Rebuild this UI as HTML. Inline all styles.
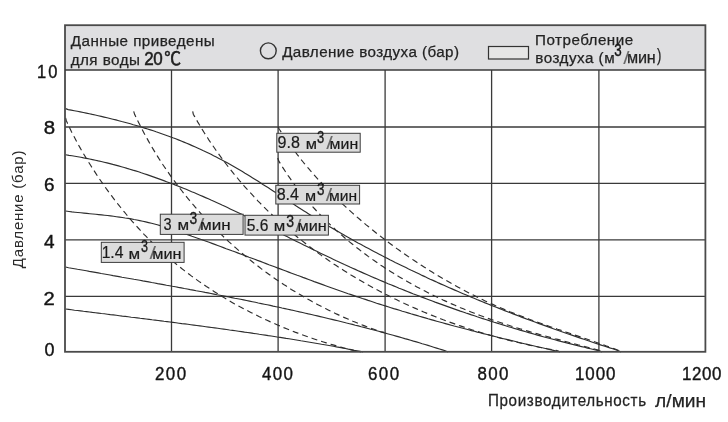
<!DOCTYPE html>
<html><head><meta charset="utf-8"><title>Chart</title><style>
html,body{margin:0;padding:0;background:#fff;}
body{width:728px;height:422px;overflow:hidden;}
svg{display:block;}
.g line{stroke:#3a3a3a;stroke-width:1.3;}
.c path{fill:none;stroke:#2e2e2e;stroke-width:1.15;}
.d path{fill:none;stroke:#2e2e2e;stroke-width:1.15;stroke-dasharray:6 4;}
</style></head><body>
<svg width="728" height="422" viewBox="0 0 728 422">
<rect x="65" y="25" width="640.5" height="45" fill="#dfdfe1"/>
<g class="g"><line x1="171.5" y1="70" x2="171.5" y2="352"/><line x1="278.1" y1="70" x2="278.1" y2="352"/><line x1="385.1" y1="70" x2="385.1" y2="352"/><line x1="491.6" y1="70" x2="491.6" y2="352"/><line x1="598.9" y1="70" x2="598.9" y2="352"/><line x1="65" y1="127.0" x2="705.5" y2="127.0"/><line x1="65" y1="183.4" x2="705.5" y2="183.4"/><line x1="65" y1="239.9" x2="705.5" y2="239.9"/><line x1="65" y1="296.3" x2="705.5" y2="296.3"/></g>
<g class="c"><path d="M65.6 108.6 L68.2 109.6 L71.2 110.1 L74.3 110.7 L77.3 111.3 L80.3 111.9 L83.3 112.5 L86.3 113.1 L89.3 113.7 L92.3 114.4 L95.2 115.0 L98.2 115.7 L101.2 116.4 L104.1 117.1 L107.1 117.8 L110.0 118.5 L112.9 119.2 L115.9 119.9 L118.8 120.7 L121.7 121.5 L124.6 122.2 L127.5 123.0 L130.4 123.8 L133.3 124.7 L136.2 125.5 L139.0 126.3 L141.9 127.2 L144.7 128.1 L147.6 129.0 L150.4 129.9 L153.3 130.8 L156.1 131.8 L158.9 132.7 L161.7 133.7 L164.5 134.7 L167.3 135.7 L170.1 136.7 L172.9 137.8 L175.7 138.8 L178.4 139.9 L181.2 141.0 L183.9 142.1 L186.7 143.3 L189.4 144.4 L192.1 145.6 L194.8 146.8 L197.5 148.0 L200.3 149.2 L202.9 150.5 L205.6 151.7 L208.3 153.0 L211.0 154.3 L213.6 155.7 L216.3 157.0 L218.9 158.4 L221.6 159.8 L224.2 161.2 L226.8 162.6 L229.4 164.1 L232.0 165.6 L234.6 167.1 L237.2 168.6 L239.8 170.1 L242.4 171.6 L245.0 173.2 L247.6 174.7 L250.1 176.3 L252.7 177.9 L255.2 179.5 L257.8 181.1 L260.4 182.7 L262.9 184.4 L265.4 186.0 L268.0 187.6 L270.5 189.3 L273.1 190.9 L275.6 192.6 L278.2 194.2 L280.7 195.9 L283.2 197.5 L285.8 199.2 L288.3 200.8 L290.9 202.5 L293.4 204.1 L295.9 205.8 L298.5 207.4 L301.0 209.1 L303.6 210.7 L306.2 212.3 L308.7 213.9 L311.3 215.5 L313.8 217.1 L316.4 218.7 L319.0 220.3 L321.6 221.8 L324.1 223.4 L326.7 225.0 L329.3 226.5 L331.9 228.0 L334.5 229.6 L337.1 231.1 L339.7 232.6 L342.3 234.1 L344.9 235.6 L347.5 237.0 L350.2 238.5 L352.8 240.0 L355.4 241.4 L358.0 242.9 L360.7 244.3 L363.3 245.8 L365.9 247.2 L368.6 248.6 L371.2 250.0 L373.9 251.4 L376.5 252.8 L379.2 254.2 L381.8 255.6 L384.5 256.9 L387.2 258.3 L389.8 259.7 L392.5 261.0 L395.2 262.4 L397.9 263.7 L400.5 265.0 L403.2 266.3 L405.9 267.6 L408.6 269.0 L411.3 270.3 L414.0 271.5 L416.7 272.8 L419.4 274.1 L422.1 275.4 L424.8 276.6 L427.5 277.9 L430.2 279.2 L433.0 280.4 L435.7 281.6 L438.4 282.9 L441.1 284.1 L443.9 285.3 L446.6 286.5 L449.3 287.7 L452.1 288.9 L454.8 290.1 L457.6 291.3 L460.3 292.5 L463.1 293.7 L465.8 294.8 L468.6 296.0 L471.4 297.2 L474.1 298.3 L476.9 299.5 L479.7 300.6 L482.4 301.7 L485.2 302.9 L488.0 304.0 L490.8 305.1 L493.5 306.2 L496.3 307.3 L499.1 308.4 L501.9 309.5 L504.7 310.6 L507.5 311.7 L510.3 312.8 L513.1 313.9 L515.9 314.9 L518.7 316.0 L521.5 317.1 L524.3 318.1 L527.1 319.2 L530.0 320.2 L532.8 321.3 L535.6 322.3 L538.4 323.4 L541.3 324.4 L544.1 325.4 L546.9 326.4 L549.7 327.4 L552.6 328.5 L555.4 329.5 L558.3 330.5 L561.1 331.5 L564.0 332.5 L566.8 333.5 L569.7 334.4 L572.5 335.4 L575.4 336.4 L578.2 337.4 L581.1 338.4 L583.9 339.3 L586.8 340.3 L589.7 341.2 L592.5 342.2 L595.4 343.2 L598.3 344.1 L601.2 345.1 L604.0 346.0 L606.9 346.9 L609.8 347.9 L612.7 348.8 L615.6 349.7 L618.5 350.7 L621.0 352.0"/><path d="M65.6 154.8 L69.0 155.4 L72.0 155.8 L74.9 156.3 L77.8 156.8 L80.8 157.3 L83.7 157.9 L86.6 158.4 L89.6 159.0 L92.5 159.6 L95.4 160.2 L98.3 160.9 L101.2 161.5 L104.1 162.2 L107.0 162.9 L109.9 163.6 L112.8 164.4 L115.6 165.1 L118.5 165.9 L121.4 166.7 L124.2 167.5 L127.1 168.4 L129.9 169.2 L132.8 170.1 L135.6 170.9 L138.5 171.8 L141.3 172.8 L144.1 173.7 L147.0 174.6 L149.8 175.6 L152.6 176.6 L155.4 177.6 L158.2 178.6 L161.0 179.6 L163.8 180.6 L166.6 181.7 L169.4 182.7 L172.2 183.8 L175.0 184.9 L177.8 186.0 L180.6 187.1 L183.4 188.2 L186.2 189.3 L188.9 190.5 L191.7 191.7 L194.5 192.8 L197.2 194.0 L200.0 195.2 L202.8 196.4 L205.5 197.6 L208.3 198.8 L211.0 200.1 L213.8 201.3 L216.5 202.5 L219.3 203.8 L222.0 205.1 L224.8 206.3 L227.5 207.6 L230.2 208.9 L233.0 210.2 L235.7 211.5 L238.4 212.8 L241.2 214.1 L243.9 215.4 L246.6 216.7 L249.4 218.1 L252.1 219.4 L254.8 220.7 L257.5 222.0 L260.3 223.4 L263.0 224.7 L265.7 226.1 L268.4 227.4 L271.1 228.8 L273.8 230.1 L276.6 231.5 L279.3 232.8 L282.0 234.1 L284.7 235.5 L287.4 236.8 L290.1 238.2 L292.8 239.5 L295.6 240.9 L298.3 242.2 L301.0 243.6 L303.7 244.9 L306.4 246.2 L309.1 247.6 L311.8 248.9 L314.5 250.2 L317.3 251.6 L320.0 252.9 L322.7 254.2 L325.4 255.5 L328.1 256.8 L330.8 258.1 L333.6 259.4 L336.3 260.7 L339.0 261.9 L341.7 263.2 L344.4 264.5 L347.2 265.7 L349.9 267.0 L352.6 268.2 L355.3 269.4 L358.1 270.7 L360.8 271.9 L363.5 273.1 L366.2 274.3 L369.0 275.5 L371.7 276.7 L374.4 277.9 L377.2 279.0 L379.9 280.2 L382.7 281.4 L385.4 282.5 L388.1 283.7 L390.9 284.8 L393.6 285.9 L396.4 287.0 L399.1 288.2 L401.9 289.3 L404.6 290.4 L407.4 291.5 L410.2 292.6 L412.9 293.7 L415.7 294.7 L418.5 295.8 L421.2 296.9 L424.0 297.9 L426.8 299.0 L429.5 300.0 L432.3 301.0 L435.1 302.1 L437.9 303.1 L440.7 304.1 L443.5 305.1 L446.3 306.1 L449.1 307.1 L451.9 308.1 L454.7 309.1 L457.5 310.1 L460.3 311.1 L463.1 312.0 L465.9 313.0 L468.7 313.9 L471.5 314.9 L474.4 315.8 L477.2 316.8 L480.0 317.7 L482.8 318.6 L485.7 319.5 L488.5 320.4 L491.4 321.4 L494.2 322.3 L497.1 323.1 L499.9 324.0 L502.8 324.9 L505.6 325.8 L508.5 326.7 L511.4 327.5 L514.2 328.4 L517.1 329.2 L520.0 330.1 L522.9 330.9 L525.8 331.8 L528.7 332.6 L531.6 333.4 L534.5 334.2 L537.4 335.1 L540.3 335.9 L543.2 336.7 L546.1 337.5 L549.1 338.3 L552.0 339.0 L554.9 339.8 L557.9 340.6 L560.8 341.4 L563.8 342.1 L566.7 342.9 L569.7 343.6 L572.6 344.4 L575.6 345.1 L578.6 345.9 L581.5 346.6 L584.5 347.3 L587.5 348.1 L590.5 348.8 L593.5 349.5 L596.5 350.2 L599.5 350.9 L602.0 352.0"/><path d="M65.6 211.0 L69.0 211.5 L71.9 211.9 L74.9 212.2 L77.9 212.5 L80.9 212.8 L83.9 213.1 L86.9 213.4 L89.8 213.7 L92.8 214.0 L95.8 214.3 L98.7 214.6 L101.7 214.9 L104.6 215.2 L107.6 215.5 L110.5 215.9 L113.5 216.3 L116.4 216.7 L119.4 217.1 L122.3 217.5 L125.2 218.0 L128.2 218.4 L131.1 218.9 L134.0 219.5 L136.9 220.0 L139.8 220.6 L142.8 221.2 L145.7 221.9 L148.6 222.6 L151.5 223.3 L154.4 224.0 L157.3 224.8 L160.2 225.6 L163.1 226.5 L166.0 227.3 L168.9 228.3 L171.7 229.2 L174.6 230.2 L177.5 231.1 L180.4 232.1 L183.3 233.1 L186.2 234.1 L189.0 235.1 L191.9 236.2 L194.8 237.2 L197.6 238.2 L200.5 239.2 L203.4 240.3 L206.2 241.3 L209.1 242.3 L212.0 243.4 L214.8 244.4 L217.7 245.5 L220.5 246.5 L223.4 247.6 L226.2 248.7 L229.1 249.7 L231.9 250.8 L234.8 251.8 L237.6 252.9 L240.5 254.0 L243.3 255.0 L246.2 256.1 L249.0 257.2 L251.9 258.2 L254.7 259.3 L257.5 260.4 L260.4 261.4 L263.2 262.5 L266.1 263.6 L268.9 264.7 L271.7 265.7 L274.6 266.8 L277.4 267.9 L280.2 268.9 L283.1 270.0 L285.9 271.0 L288.7 272.1 L291.6 273.2 L294.4 274.2 L297.2 275.3 L300.1 276.3 L302.9 277.4 L305.7 278.4 L308.6 279.5 L311.4 280.5 L314.2 281.6 L317.1 282.6 L319.9 283.6 L322.7 284.6 L325.6 285.7 L328.4 286.7 L331.2 287.7 L334.1 288.7 L336.9 289.7 L339.7 290.7 L342.6 291.7 L345.4 292.7 L348.2 293.7 L351.1 294.6 L353.9 295.6 L356.7 296.6 L359.6 297.5 L362.4 298.5 L365.3 299.4 L368.1 300.4 L371.0 301.3 L373.8 302.2 L376.6 303.2 L379.5 304.1 L382.3 305.0 L385.2 305.9 L388.0 306.8 L390.9 307.7 L393.7 308.6 L396.6 309.4 L399.5 310.3 L402.3 311.2 L405.2 312.0 L408.0 312.9 L410.9 313.8 L413.8 314.6 L416.6 315.4 L419.5 316.3 L422.4 317.1 L425.2 317.9 L428.1 318.8 L431.0 319.6 L433.9 320.4 L436.7 321.2 L439.6 322.0 L442.5 322.8 L445.4 323.6 L448.3 324.4 L451.2 325.2 L454.1 326.0 L457.0 326.7 L459.9 327.5 L462.8 328.3 L465.7 329.0 L468.6 329.8 L471.5 330.6 L474.4 331.3 L477.3 332.1 L480.2 332.8 L483.2 333.6 L486.1 334.3 L489.0 335.0 L491.9 335.8 L494.9 336.5 L497.8 337.2 L500.7 338.0 L503.7 338.7 L506.6 339.4 L509.6 340.1 L512.5 340.8 L515.5 341.5 L518.5 342.3 L521.4 343.0 L524.4 343.7 L527.4 344.4 L530.3 345.1 L533.3 345.8 L536.3 346.5 L539.3 347.2 L542.3 347.8 L545.3 348.5 L548.3 349.2 L551.3 349.9 L554.3 350.6 L557.3 351.3 L560.0 352.0"/><path d="M65.6 267.0 L68.6 267.7 L71.5 268.2 L74.5 268.7 L77.5 269.3 L80.4 269.8 L83.4 270.3 L86.4 270.8 L89.3 271.4 L92.3 271.9 L95.3 272.4 L98.2 272.9 L101.2 273.5 L104.2 274.0 L107.1 274.5 L110.1 275.0 L113.1 275.6 L116.0 276.1 L119.0 276.6 L122.0 277.2 L124.9 277.7 L127.9 278.2 L130.9 278.7 L133.9 279.3 L136.8 279.8 L139.8 280.3 L142.8 280.9 L145.7 281.4 L148.7 281.9 L151.7 282.5 L154.6 283.0 L157.6 283.6 L160.6 284.1 L163.5 284.6 L166.5 285.2 L169.5 285.7 L172.4 286.3 L175.4 286.8 L178.4 287.4 L181.3 287.9 L184.3 288.5 L187.3 289.0 L190.2 289.6 L193.2 290.1 L196.2 290.7 L199.1 291.2 L202.1 291.8 L205.1 292.4 L208.0 292.9 L211.0 293.5 L214.0 294.1 L216.9 294.7 L219.9 295.2 L222.9 295.8 L225.8 296.4 L228.8 297.0 L231.7 297.6 L234.7 298.2 L237.7 298.7 L240.6 299.3 L243.6 299.9 L246.5 300.5 L249.5 301.1 L252.4 301.7 L255.4 302.3 L258.3 303.0 L261.3 303.6 L264.3 304.2 L267.2 304.8 L270.2 305.4 L273.1 306.1 L276.1 306.7 L279.0 307.3 L282.0 308.0 L284.9 308.6 L287.8 309.2 L290.8 309.9 L293.7 310.5 L296.7 311.2 L299.6 311.9 L302.6 312.5 L305.5 313.2 L308.4 313.9 L311.4 314.5 L314.3 315.2 L317.3 315.9 L320.2 316.6 L323.1 317.3 L326.1 318.0 L329.0 318.7 L331.9 319.4 L334.9 320.1 L337.8 320.8 L340.7 321.5 L343.6 322.2 L346.6 323.0 L349.5 323.7 L352.4 324.4 L355.3 325.2 L358.3 325.9 L361.2 326.7 L364.1 327.4 L367.0 328.2 L369.9 329.0 L372.9 329.7 L375.8 330.5 L378.7 331.3 L381.6 332.1 L384.5 332.9 L387.4 333.7 L390.3 334.5 L393.2 335.3 L396.1 336.1 L399.0 336.9 L401.9 337.7 L404.8 338.6 L407.7 339.4 L410.6 340.2 L413.5 341.1 L416.4 341.9 L419.3 342.8 L422.2 343.7 L425.1 344.5 L428.0 345.4 L430.8 346.3 L433.7 347.2 L436.6 348.1 L439.5 349.0 L442.4 349.9 L445.2 350.8 L448.0 352.0"/><path d="M65.6 309.0 L68.6 309.4 L71.6 309.8 L74.5 310.2 L77.5 310.5 L80.5 310.9 L83.5 311.3 L86.5 311.6 L89.5 312.0 L92.4 312.4 L95.4 312.7 L98.4 313.1 L101.4 313.5 L104.4 313.8 L107.4 314.2 L110.3 314.6 L113.3 314.9 L116.3 315.3 L119.3 315.7 L122.3 316.1 L125.3 316.4 L128.2 316.8 L131.2 317.2 L134.2 317.5 L137.2 317.9 L140.2 318.3 L143.2 318.6 L146.1 319.0 L149.1 319.4 L152.1 319.8 L155.1 320.1 L158.1 320.5 L161.0 320.9 L164.0 321.3 L167.0 321.6 L170.0 322.0 L173.0 322.4 L176.0 322.8 L178.9 323.2 L181.9 323.6 L184.9 323.9 L187.9 324.3 L190.9 324.7 L193.8 325.1 L196.8 325.5 L199.8 325.9 L202.8 326.3 L205.8 326.7 L208.7 327.1 L211.7 327.5 L214.7 327.9 L217.7 328.3 L220.7 328.7 L223.6 329.1 L226.6 329.5 L229.6 330.0 L232.6 330.4 L235.5 330.8 L238.5 331.2 L241.5 331.6 L244.5 332.1 L247.4 332.5 L250.4 332.9 L253.4 333.4 L256.4 333.8 L259.3 334.3 L262.3 334.7 L265.3 335.1 L268.3 335.6 L271.2 336.0 L274.2 336.5 L277.2 337.0 L280.1 337.4 L283.1 337.9 L286.1 338.4 L289.0 338.8 L292.0 339.3 L295.0 339.8 L297.9 340.3 L300.9 340.8 L303.9 341.2 L306.8 341.7 L309.8 342.2 L312.8 342.7 L315.7 343.2 L318.7 343.7 L321.6 344.3 L324.6 344.8 L327.6 345.3 L330.5 345.8 L333.5 346.3 L336.4 346.9 L339.4 347.4 L342.4 348.0 L345.3 348.5 L348.3 349.1 L351.2 349.6 L354.2 350.2 L357.1 350.7 L360.1 351.3 L363.0 352.0"/></g>
<g class="d"><path d="M65.6 118.0 L66.4 120.9 L67.6 123.6 L68.9 126.3 L70.2 129.0 L71.5 131.7 L72.9 134.4 L74.3 137.0 L75.7 139.7 L77.1 142.4 L78.5 145.0 L80.0 147.6 L81.5 150.3 L83.0 152.9 L84.6 155.5 L86.1 158.1 L87.7 160.7 L89.3 163.2 L90.9 165.8 L92.5 168.4 L94.2 170.9 L95.8 173.4 L97.5 176.0 L99.2 178.5 L100.9 181.0 L102.6 183.4 L104.4 185.9 L106.1 188.4 L107.9 190.8 L109.7 193.2 L111.5 195.7 L113.3 198.1 L115.1 200.5 L116.9 202.8 L118.8 205.2 L120.7 207.5 L122.6 209.9 L124.5 212.2 L126.4 214.5 L128.3 216.8 L130.3 219.1 L132.2 221.3 L134.2 223.6 L136.2 225.8 L138.2 228.0 L140.2 230.2 L142.3 232.4 L144.3 234.6 L146.4 236.7 L148.5 238.9 L150.6 241.0 L152.8 243.1 L154.9 245.2 L157.1 247.2 L159.2 249.3 L161.4 251.3 L163.7 253.3 L165.9 255.3 L168.2 257.3 L170.4 259.3 L172.7 261.2 L175.0 263.1 L177.3 265.0 L179.7 266.9 L182.0 268.8 L184.4 270.6 L186.8 272.5 L189.2 274.3 L191.6 276.1 L194.0 277.8 L196.5 279.6 L198.9 281.4 L201.4 283.1 L203.9 284.8 L206.4 286.5 L208.9 288.1 L211.4 289.8 L214.0 291.4 L216.5 293.0 L219.1 294.6 L221.7 296.2 L224.3 297.8 L226.9 299.3 L229.5 300.9 L232.1 302.4 L234.7 303.9 L237.4 305.3 L240.0 306.8 L242.7 308.2 L245.4 309.6 L248.1 311.0 L250.8 312.4 L253.5 313.8 L256.2 315.1 L258.9 316.5 L261.6 317.8 L264.4 319.1 L267.1 320.3 L269.9 321.6 L272.7 322.8 L275.4 324.0 L278.2 325.2 L281.0 326.4 L283.8 327.6 L286.6 328.7 L289.4 329.9 L292.2 331.0 L295.0 332.1 L297.8 333.1 L300.7 334.2 L303.5 335.2 L306.3 336.2 L309.2 337.3 L312.0 338.2 L314.9 339.2 L317.7 340.1 L320.6 341.1 L323.4 342.0 L326.3 342.9 L329.2 343.8 L332.0 344.6 L334.9 345.4 L337.8 346.3 L340.6 347.1 L343.5 347.9 L346.4 348.6 L349.3 349.4 L352.1 350.1 L355.0 350.8 L357.9 351.5 L361.0 352.0"/><path d="M133.7 111.4 L134.6 114.3 L135.9 117.0 L137.2 119.8 L138.6 122.5 L139.9 125.1 L141.3 127.8 L142.7 130.5 L144.1 133.2 L145.5 135.8 L147.0 138.4 L148.5 141.1 L149.9 143.7 L151.5 146.3 L153.0 148.9 L154.5 151.4 L156.1 154.0 L157.7 156.6 L159.3 159.1 L161.0 161.6 L162.6 164.2 L164.3 166.7 L166.0 169.2 L167.7 171.6 L169.4 174.1 L171.1 176.6 L172.9 179.0 L174.7 181.4 L176.5 183.9 L178.3 186.3 L180.1 188.7 L182.0 191.0 L183.8 193.4 L185.7 195.8 L187.6 198.1 L189.5 200.4 L191.5 202.7 L193.4 205.0 L195.4 207.3 L197.4 209.6 L199.4 211.8 L201.4 214.1 L203.4 216.3 L205.5 218.5 L207.5 220.7 L209.6 222.9 L211.7 225.1 L213.8 227.2 L215.9 229.4 L218.1 231.5 L220.2 233.6 L222.4 235.7 L224.6 237.8 L226.8 239.8 L229.0 241.9 L231.3 243.9 L233.5 245.9 L235.8 247.9 L238.0 249.9 L240.3 251.9 L242.6 253.8 L244.9 255.8 L247.3 257.7 L249.6 259.6 L252.0 261.5 L254.3 263.4 L256.7 265.2 L259.1 267.0 L261.5 268.9 L263.9 270.7 L266.4 272.5 L268.8 274.2 L271.3 276.0 L273.7 277.7 L276.2 279.4 L278.7 281.1 L281.2 282.8 L283.7 284.5 L286.3 286.1 L288.8 287.7 L291.3 289.4 L293.9 290.9 L296.5 292.5 L299.1 294.1 L301.7 295.6 L304.3 297.1 L306.9 298.6 L309.5 300.1 L312.1 301.6 L314.8 303.0 L317.4 304.4 L320.1 305.8 L322.8 307.2 L325.5 308.6 L328.2 309.9 L330.9 311.3 L333.6 312.6 L336.3 313.9 L339.0 315.1 L341.8 316.4 L344.5 317.6 L347.3 318.8 L350.0 320.0 L352.8 321.2 L355.6 322.3 L358.4 323.4 L361.2 324.5 L364.0 325.6 L366.8 326.7 L369.6 327.7 L372.5 328.7 L375.3 329.7 L378.1 330.7 L381.0 331.7 L384.0 332.3"/><path d="M192.7 111.4 L193.3 114.2 L194.8 116.9 L196.3 119.5 L197.8 122.1 L199.4 124.7 L200.9 127.3 L202.5 129.9 L204.1 132.5 L205.7 135.0 L207.4 137.5 L209.0 140.1 L210.7 142.6 L212.4 145.1 L214.1 147.5 L215.8 150.0 L217.5 152.5 L219.3 154.9 L221.1 157.3 L222.9 159.7 L224.7 162.1 L226.5 164.5 L228.3 166.9 L230.2 169.2 L232.1 171.6 L233.9 173.9 L235.9 176.2 L237.8 178.5 L239.7 180.8 L241.7 183.1 L243.6 185.3 L245.6 187.6 L247.6 189.8 L249.6 192.0 L251.7 194.2 L253.7 196.4 L255.8 198.6 L257.8 200.8 L259.9 202.9 L262.0 205.0 L264.1 207.2 L266.3 209.3 L268.4 211.4 L270.6 213.4 L272.8 215.5 L274.9 217.5 L277.1 219.6 L279.4 221.6 L281.6 223.6 L283.8 225.6 L286.1 227.5 L288.3 229.5 L290.6 231.4 L292.9 233.4 L295.2 235.3 L297.5 237.2 L299.9 239.1 L302.2 240.9 L304.6 242.8 L306.9 244.6 L309.3 246.5 L311.7 248.3 L314.1 250.1 L316.5 251.8 L318.9 253.6 L321.4 255.4 L323.8 257.1 L326.3 258.8 L328.7 260.5 L331.2 262.2 L333.7 263.9 L336.2 265.5 L338.7 267.2 L341.2 268.8 L343.8 270.4 L346.3 272.0 L348.8 273.6 L351.4 275.2 L354.0 276.7 L356.5 278.3 L359.1 279.8 L361.7 281.3 L364.3 282.8 L367.0 284.3 L369.6 285.8 L372.2 287.2 L374.9 288.7 L377.5 290.1 L380.2 291.5 L382.8 292.9 L385.5 294.3 L388.2 295.6 L390.9 297.0 L393.6 298.3 L396.3 299.6 L399.0 300.9 L401.7 302.2 L404.4 303.5 L407.2 304.7 L409.9 306.0 L412.7 307.2 L415.4 308.4 L418.2 309.6 L420.9 310.8 L423.7 312.0 L426.5 313.1 L429.3 314.3 L432.1 315.4 L434.9 316.5 L437.7 317.6 L440.5 318.7 L443.3 319.8 L446.1 320.8 L449.0 321.9 L451.8 322.9 L454.6 323.9 L457.5 324.9 L460.3 325.9 L463.2 326.9 L466.0 327.8 L468.9 328.8 L471.7 329.7 L474.6 330.6 L477.5 331.5 L480.4 332.4 L483.2 333.2 L486.1 334.1 L489.0 334.9 L491.9 335.7 L494.8 336.6 L497.7 337.4 L500.6 338.1 L503.5 338.9 L506.4 339.7 L509.3 340.4 L512.2 341.1 L515.1 341.8 L518.1 342.5 L521.0 343.2 L523.9 343.9 L526.8 344.5 L529.7 345.2 L532.7 345.8 L535.6 346.4 L538.5 347.0 L541.5 347.6 L544.4 348.1 L547.3 348.7 L550.2 349.2 L553.2 349.8 L556.1 350.3 L559.0 351.3"/><path d="M277.8 158.0 L278.7 160.9 L280.3 163.5 L281.9 166.1 L283.5 168.6 L285.2 171.2 L286.8 173.7 L288.5 176.2 L290.3 178.7 L292.0 181.1 L293.8 183.6 L295.6 186.0 L297.4 188.4 L299.3 190.7 L301.1 193.1 L303.0 195.4 L304.9 197.7 L306.9 200.0 L308.8 202.3 L310.8 204.6 L312.8 206.8 L314.8 209.0 L316.8 211.2 L318.9 213.4 L320.9 215.5 L323.0 217.6 L325.1 219.8 L327.3 221.9 L329.4 223.9 L331.6 226.0 L333.8 228.0 L336.0 230.1 L338.2 232.1 L340.4 234.1 L342.7 236.0 L344.9 238.0 L347.2 239.9 L349.5 241.9 L351.9 243.8 L354.2 245.6 L356.5 247.5 L358.9 249.3 L361.3 251.2 L363.7 253.0 L366.1 254.8 L368.5 256.6 L370.9 258.3 L373.4 260.1 L375.9 261.8 L378.3 263.5 L380.8 265.2 L383.3 266.8 L385.8 268.5 L388.4 270.1 L390.9 271.7 L393.5 273.3 L396.0 274.9 L398.6 276.5 L401.2 278.0 L403.8 279.5 L406.4 281.0 L409.0 282.5 L411.6 284.0 L414.3 285.5 L416.9 286.9 L419.6 288.3 L422.3 289.7 L424.9 291.1 L427.6 292.5 L430.3 293.9 L433.0 295.2 L435.7 296.5 L438.5 297.8 L441.2 299.1 L443.9 300.4 L446.7 301.6 L449.4 302.9 L452.2 304.1 L455.0 305.3 L457.7 306.5 L460.5 307.7 L463.3 308.8 L466.1 310.0 L468.9 311.1 L471.7 312.2 L474.5 313.3 L477.3 314.4 L480.2 315.5 L483.0 316.5 L485.8 317.6 L488.7 318.6 L491.5 319.6 L494.4 320.6 L497.2 321.5 L500.1 322.5 L502.9 323.4 L505.8 324.4 L508.7 325.3 L511.5 326.2 L514.4 327.1 L517.3 328.0 L520.2 328.9 L523.1 329.7 L525.9 330.6 L528.8 331.4 L531.7 332.3 L534.6 333.1 L537.5 333.9 L540.4 334.7 L543.3 335.5 L546.2 336.3 L549.1 337.1 L552.0 337.9 L554.9 338.7 L557.8 339.4 L560.7 340.2 L563.6 341.0 L566.5 341.7 L569.3 342.5 L572.2 343.3 L575.1 344.0 L578.0 344.8 L580.9 345.5 L583.8 346.3 L586.7 347.0 L589.6 347.8 L592.5 348.5 L595.3 349.3 L598.2 350.1 L601.0 351.3"/><path d="M278.0 127.0 L279.5 129.5 L281.2 132.1 L282.9 134.7 L284.6 137.2 L286.3 139.7 L288.1 142.2 L289.9 144.7 L291.6 147.2 L293.4 149.6 L295.3 152.0 L297.1 154.4 L299.0 156.8 L300.8 159.2 L302.7 161.5 L304.6 163.8 L306.5 166.1 L308.5 168.4 L310.4 170.7 L312.4 172.9 L314.3 175.1 L316.3 177.4 L318.3 179.6 L320.4 181.7 L322.4 183.9 L324.4 186.1 L326.5 188.2 L328.6 190.3 L330.7 192.4 L332.8 194.5 L334.9 196.6 L337.0 198.7 L339.2 200.8 L341.3 202.8 L343.5 204.9 L345.7 206.9 L347.9 208.9 L350.1 210.9 L352.3 212.9 L354.6 214.9 L356.8 216.9 L359.1 218.8 L361.4 220.8 L363.7 222.7 L365.9 224.6 L368.3 226.5 L370.6 228.4 L372.9 230.3 L375.3 232.2 L377.6 234.1 L380.0 235.9 L382.4 237.8 L384.8 239.6 L387.2 241.4 L389.6 243.2 L392.0 245.0 L394.4 246.8 L396.9 248.6 L399.3 250.3 L401.8 252.1 L404.2 253.8 L406.7 255.5 L409.2 257.2 L411.7 258.9 L414.2 260.6 L416.8 262.3 L419.3 264.0 L421.8 265.6 L424.4 267.2 L426.9 268.8 L429.5 270.5 L432.1 272.0 L434.6 273.6 L437.2 275.2 L439.8 276.7 L442.4 278.3 L445.1 279.8 L447.7 281.3 L450.3 282.8 L452.9 284.3 L455.6 285.8 L458.2 287.2 L460.9 288.7 L463.6 290.1 L466.2 291.5 L468.9 292.9 L471.6 294.3 L474.3 295.6 L477.0 297.0 L479.7 298.3 L482.4 299.6 L485.1 300.9 L487.9 302.2 L490.6 303.4 L493.3 304.6 L496.1 305.9 L498.8 307.0 L501.6 308.2 L504.3 309.4 L507.1 310.5 L509.8 311.7 L512.6 312.8 L515.4 313.9 L518.2 315.0 L521.0 316.0 L523.7 317.1 L526.5 318.2 L529.3 319.2 L532.1 320.2 L534.9 321.3 L537.8 322.3 L540.6 323.3 L543.4 324.3 L546.2 325.3 L549.0 326.2 L551.8 327.2 L554.7 328.2 L557.5 329.2 L560.3 330.1 L563.2 331.1 L566.0 332.1 L568.9 333.0 L571.7 334.0 L574.5 335.0 L577.4 335.9 L580.2 336.9 L583.1 337.9 L585.9 338.8 L588.8 339.8 L591.6 340.8 L594.5 341.8 L597.4 342.8 L600.2 343.7 L603.1 344.7 L605.9 345.8 L608.8 346.8 L611.6 347.8 L614.5 348.8 L617.4 349.9 L620.0 351.3"/></g>
<g><rect x="276.8" y="133.3" width="83.4" height="18.9" fill="#dcdcdc" stroke="#3c3c3c" stroke-width="1"/><text x="277.50" y="148.40" font-family="'Liberation Sans', 'Noto Sans CJK JP', sans-serif" font-size="16" font-weight="400" fill="#1a1a1a" textLength="22.35" lengthAdjust="spacingAndGlyphs" stroke="#1a1a1a" stroke-width="0.2">9.8</text><text x="305.65" y="149.00" font-family="'Liberation Sans', 'Noto Sans CJK JP', sans-serif" font-size="14.8" font-weight="400" fill="#1a1a1a" textLength="11.25" lengthAdjust="spacingAndGlyphs" stroke="#1a1a1a" stroke-width="0.2">м</text><text x="316.98" y="142.50" font-family="'Liberation Sans', 'Noto Sans CJK JP', sans-serif" font-size="16.3" font-weight="500" fill="#1a1a1a" textLength="7.22" lengthAdjust="spacingAndGlyphs" stroke="#1a1a1a" stroke-width="0.35">3</text><text x="326.20" y="149.30" font-family="'Liberation Sans', 'Noto Sans CJK JP', sans-serif" font-size="18.08" font-weight="300" fill="#6a6a6a" textLength="6.55" lengthAdjust="spacingAndGlyphs" >/</text><text x="329.59" y="149.00" font-family="'Liberation Sans', 'Noto Sans CJK JP', sans-serif" font-size="14.8" font-weight="400" fill="#1a1a1a" textLength="28.60" lengthAdjust="spacingAndGlyphs" stroke="#1a1a1a" stroke-width="0.2">мин</text></g><g><rect x="275.8" y="185.3" width="83.8" height="18.7" fill="#dcdcdc" stroke="#3c3c3c" stroke-width="1"/><text x="276.66" y="200.30" font-family="'Liberation Sans', 'Noto Sans CJK JP', sans-serif" font-size="16" font-weight="400" fill="#1a1a1a" textLength="22.33" lengthAdjust="spacingAndGlyphs" stroke="#1a1a1a" stroke-width="0.2">8.4</text><text x="304.97" y="200.90" font-family="'Liberation Sans', 'Noto Sans CJK JP', sans-serif" font-size="14.8" font-weight="400" fill="#1a1a1a" textLength="11.12" lengthAdjust="spacingAndGlyphs" stroke="#1a1a1a" stroke-width="0.2">м</text><text x="316.96" y="194.50" font-family="'Liberation Sans', 'Noto Sans CJK JP', sans-serif" font-size="16.3" font-weight="500" fill="#1a1a1a" textLength="7.46" lengthAdjust="spacingAndGlyphs" stroke="#1a1a1a" stroke-width="0.35">3</text><text x="325.70" y="201.30" font-family="'Liberation Sans', 'Noto Sans CJK JP', sans-serif" font-size="18.08" font-weight="300" fill="#6a6a6a" textLength="6.45" lengthAdjust="spacingAndGlyphs" >/</text><text x="329.01" y="200.90" font-family="'Liberation Sans', 'Noto Sans CJK JP', sans-serif" font-size="14.8" font-weight="400" fill="#1a1a1a" textLength="28.06" lengthAdjust="spacingAndGlyphs" stroke="#1a1a1a" stroke-width="0.2">мин</text></g><g><rect x="245.0" y="215.3" width="83.4" height="19.8" fill="#dcdcdc" stroke="#3c3c3c" stroke-width="1"/><text x="246.68" y="230.50" font-family="'Liberation Sans', 'Noto Sans CJK JP', sans-serif" font-size="16" font-weight="400" fill="#1a1a1a" textLength="21.65" lengthAdjust="spacingAndGlyphs" stroke="#1a1a1a" stroke-width="0.2">5.6</text><text x="273.83" y="231.10" font-family="'Liberation Sans', 'Noto Sans CJK JP', sans-serif" font-size="14.8" font-weight="400" fill="#1a1a1a" textLength="11.50" lengthAdjust="spacingAndGlyphs" stroke="#1a1a1a" stroke-width="0.2">м</text><text x="286.24" y="227.10" font-family="'Liberation Sans', 'Noto Sans CJK JP', sans-serif" font-size="16.3" font-weight="500" fill="#1a1a1a" textLength="7.81" lengthAdjust="spacingAndGlyphs" stroke="#1a1a1a" stroke-width="0.35">3</text><text x="295.30" y="231.50" font-family="'Liberation Sans', 'Noto Sans CJK JP', sans-serif" font-size="18.08" font-weight="300" fill="#6a6a6a" textLength="6.16" lengthAdjust="spacingAndGlyphs" >/</text><text x="297.56" y="231.10" font-family="'Liberation Sans', 'Noto Sans CJK JP', sans-serif" font-size="14.8" font-weight="400" fill="#1a1a1a" textLength="29.25" lengthAdjust="spacingAndGlyphs" stroke="#1a1a1a" stroke-width="0.2">мин</text></g><g><rect x="160.3" y="214.2" width="82.8" height="20.2" fill="#dcdcdc" stroke="#3c3c3c" stroke-width="1"/><text x="163.42" y="229.60" font-family="'Liberation Sans', 'Noto Sans CJK JP', sans-serif" font-size="16" font-weight="400" fill="#1a1a1a" textLength="8.05" lengthAdjust="spacingAndGlyphs" stroke="#1a1a1a" stroke-width="0.2">3</text><text x="177.52" y="230.20" font-family="'Liberation Sans', 'Noto Sans CJK JP', sans-serif" font-size="14.8" font-weight="400" fill="#1a1a1a" textLength="11.63" lengthAdjust="spacingAndGlyphs" stroke="#1a1a1a" stroke-width="0.2">м</text><text x="189.45" y="223.80" font-family="'Liberation Sans', 'Noto Sans CJK JP', sans-serif" font-size="16.3" font-weight="500" fill="#1a1a1a" textLength="7.69" lengthAdjust="spacingAndGlyphs" stroke="#1a1a1a" stroke-width="0.35">3</text><text x="197.80" y="230.60" font-family="'Liberation Sans', 'Noto Sans CJK JP', sans-serif" font-size="18.08" font-weight="300" fill="#6a6a6a" textLength="6.65" lengthAdjust="spacingAndGlyphs" >/</text><text x="200.01" y="230.20" font-family="'Liberation Sans', 'Noto Sans CJK JP', sans-serif" font-size="14.8" font-weight="400" fill="#1a1a1a" textLength="30.66" lengthAdjust="spacingAndGlyphs" stroke="#1a1a1a" stroke-width="0.2">мин</text></g><g><rect x="101.3" y="242.3" width="82.8" height="20.1" fill="#dcdcdc" stroke="#3c3c3c" stroke-width="1"/><text x="101.64" y="258.40" font-family="'Liberation Sans', 'Noto Sans CJK JP', sans-serif" font-size="16" font-weight="400" fill="#1a1a1a" textLength="21.83" lengthAdjust="spacingAndGlyphs" stroke="#1a1a1a" stroke-width="0.2">1.4</text><text x="128.42" y="259.00" font-family="'Liberation Sans', 'Noto Sans CJK JP', sans-serif" font-size="14.8" font-weight="400" fill="#1a1a1a" textLength="11.63" lengthAdjust="spacingAndGlyphs" stroke="#1a1a1a" stroke-width="0.2">м</text><text x="141.00" y="251.80" font-family="'Liberation Sans', 'Noto Sans CJK JP', sans-serif" font-size="16.3" font-weight="500" fill="#1a1a1a" textLength="6.98" lengthAdjust="spacingAndGlyphs" stroke="#1a1a1a" stroke-width="0.35">3</text><text x="149.40" y="259.40" font-family="'Liberation Sans', 'Noto Sans CJK JP', sans-serif" font-size="18.08" font-weight="300" fill="#6a6a6a" textLength="6.55" lengthAdjust="spacingAndGlyphs" >/</text><text x="152.26" y="259.00" font-family="'Liberation Sans', 'Noto Sans CJK JP', sans-serif" font-size="14.8" font-weight="400" fill="#1a1a1a" textLength="29.25" lengthAdjust="spacingAndGlyphs" stroke="#1a1a1a" stroke-width="0.2">мин</text></g>
<rect x="65" y="25.2" width="640.4" height="326.6" fill="none" stroke="#4a4a4a" stroke-width="1.8"/>
<line x1="65" y1="70" x2="705.5" y2="70" stroke="#3a3a3a" stroke-width="1.5"/>
<circle cx="268.3" cy="50.8" r="7.9" fill="none" stroke="#333" stroke-width="1.4"/>
<rect x="488.5" y="46.5" width="40" height="12.5" fill="#e6e6e6" stroke="#333" stroke-width="1.2"/>
<text x="70.85" y="45.70" font-family="'Liberation Sans', 'Noto Sans CJK JP', sans-serif" font-size="15.2" font-weight="400" fill="#232323" letter-spacing="0.464" stroke="#232323" stroke-width="0.25">Данные приведены</text><text x="70.75" y="64.80" font-family="'Liberation Sans', 'Noto Sans CJK JP', sans-serif" font-size="15.2" font-weight="400" fill="#232323" letter-spacing="0.450" stroke="#232323" stroke-width="0.25">для воды</text><text transform="translate(144.35 64.50) scale(0.92 1)" x="0" y="0" font-family="'Liberation Sans', 'Noto Sans CJK JP', sans-serif" font-size="18.5" font-weight="400" fill="#232323" letter-spacing="-0.609" stroke="#141414" stroke-width="0.5">20</text><text x="164.26" y="64.60" font-family="'Liberation Sans', 'Noto Sans CJK JP', sans-serif" font-size="18" font-weight="400" fill="#232323" textLength="16.78" lengthAdjust="spacingAndGlyphs" stroke="#141414" stroke-width="0.5">℃</text><text x="282.15" y="56.90" font-family="'Liberation Sans', 'Noto Sans CJK JP', sans-serif" font-size="15.2" font-weight="400" fill="#232323" letter-spacing="0.422" stroke="#232323" stroke-width="0.25">Давление воздуха (бар)</text><text x="535.08" y="44.70" font-family="'Liberation Sans', 'Noto Sans CJK JP', sans-serif" font-size="15.2" font-weight="400" fill="#232323" letter-spacing="0.470" stroke="#232323" stroke-width="0.25">Потребление</text><text x="535.24" y="62.60" font-family="'Liberation Sans', 'Noto Sans CJK JP', sans-serif" font-size="15.2" font-weight="400" fill="#232323" letter-spacing="0.499" stroke="#232323" stroke-width="0.25">воздуха (м</text><text x="614.36" y="55.90" font-family="'Liberation Sans', 'Noto Sans CJK JP', sans-serif" font-size="16.6" font-weight="500" fill="#141414" textLength="7.46" lengthAdjust="spacingAndGlyphs" stroke="#141414" stroke-width="0.4">3</text><text x="627.07" y="62.50" font-family="'Liberation Sans', 'Noto Sans CJK JP', sans-serif" font-size="16.2" font-weight="400" fill="#232323" letter-spacing="-0.196" stroke="#232323" stroke-width="0.25">мин</text><text x="656.97" y="60.80" font-family="'Liberation Sans', 'Noto Sans CJK JP', sans-serif" font-size="17.9" font-weight="400" fill="#232323" textLength="4.36" lengthAdjust="spacingAndGlyphs" stroke="#232323" stroke-width="0.25">)</text><text transform="translate(37.08 77.50) scale(0.9 1)" x="0" y="0" font-family="'Liberation Sans', 'Noto Sans CJK JP', sans-serif" font-size="18.3" font-weight="500" fill="#141414" letter-spacing="2.216" stroke="#141414" stroke-width="0.4">10</text><text x="43.68" y="133.80" font-family="'Liberation Sans', 'Noto Sans CJK JP', sans-serif" font-size="18.3" font-weight="500" fill="#141414" textLength="11.36" lengthAdjust="spacingAndGlyphs" stroke="#141414" stroke-width="0.4">8</text><text x="43.95" y="191.10" font-family="'Liberation Sans', 'Noto Sans CJK JP', sans-serif" font-size="18.3" font-weight="500" fill="#141414" textLength="10.52" lengthAdjust="spacingAndGlyphs" stroke="#141414" stroke-width="0.4">6</text><text x="43.92" y="247.90" font-family="'Liberation Sans', 'Noto Sans CJK JP', sans-serif" font-size="18.3" font-weight="500" fill="#141414" textLength="10.58" lengthAdjust="spacingAndGlyphs" stroke="#141414" stroke-width="0.4">4</text><text x="43.49" y="304.50" font-family="'Liberation Sans', 'Noto Sans CJK JP', sans-serif" font-size="18.3" font-weight="500" fill="#141414" textLength="11.25" lengthAdjust="spacingAndGlyphs" stroke="#141414" stroke-width="0.4">2</text><text x="44.48" y="355.60" font-family="'Liberation Sans', 'Noto Sans CJK JP', sans-serif" font-size="18.3" font-weight="500" fill="#141414" textLength="9.97" lengthAdjust="spacingAndGlyphs" stroke="#141414" stroke-width="0.4">0</text><text transform="translate(154.95 380.30) scale(0.9 1)" x="0" y="0" font-family="'Liberation Sans', 'Noto Sans CJK JP', sans-serif" font-size="18.8" font-weight="500" fill="#141414" letter-spacing="1.592" stroke="#141414" stroke-width="0.4">200</text><text transform="translate(261.96 380.30) scale(0.9 1)" x="0" y="0" font-family="'Liberation Sans', 'Noto Sans CJK JP', sans-serif" font-size="18.8" font-weight="500" fill="#141414" letter-spacing="1.477" stroke="#141414" stroke-width="0.4">400</text><text transform="translate(367.95 380.30) scale(0.9 1)" x="0" y="0" font-family="'Liberation Sans', 'Noto Sans CJK JP', sans-serif" font-size="18.8" font-weight="500" fill="#141414" letter-spacing="1.648" stroke="#141414" stroke-width="0.4">600</text><text transform="translate(477.52 380.30) scale(0.9 1)" x="0" y="0" font-family="'Liberation Sans', 'Noto Sans CJK JP', sans-serif" font-size="18.8" font-weight="500" fill="#141414" letter-spacing="1.443" stroke="#141414" stroke-width="0.4">800</text><text transform="translate(575.05 380.30) scale(0.9 1)" x="0" y="0" font-family="'Liberation Sans', 'Noto Sans CJK JP', sans-serif" font-size="18.8" font-weight="500" fill="#141414" letter-spacing="0.988" stroke="#141414" stroke-width="0.4">1000</text><text transform="translate(682.05 380.30) scale(0.9 1)" x="0" y="0" font-family="'Liberation Sans', 'Noto Sans CJK JP', sans-serif" font-size="18.8" font-weight="500" fill="#141414" letter-spacing="0.655" stroke="#141414" stroke-width="0.4">1200</text><text transform="translate(487.98 405.90) scale(0.95 1)" x="0" y="0" font-family="'Liberation Sans', 'Noto Sans CJK JP', sans-serif" font-size="16" font-weight="400" fill="#232323" letter-spacing="0.662" stroke="#232323" stroke-width="0.25">Производительность</text><text x="655.11" y="406.60" font-family="'Liberation Sans', 'Noto Sans CJK JP', sans-serif" font-size="19" font-weight="400" fill="#232323" textLength="51.03" lengthAdjust="spacingAndGlyphs" stroke="#232323" stroke-width="0.25">л/мин</text><text x="623.20" y="63.50" font-family="'Liberation Sans', 'Noto Sans CJK JP', sans-serif" font-size="19.04" font-weight="300" fill="#6a6a6a" textLength="6.25" lengthAdjust="spacingAndGlyphs" >/</text><text transform="translate(23.4 268) rotate(-90)" x="-0.15" y="0" font-family="'Liberation Sans', sans-serif" font-size="15" fill="#2b2b2b" letter-spacing="0.785">Давление (бар)</text>
</svg>
</body></html>
